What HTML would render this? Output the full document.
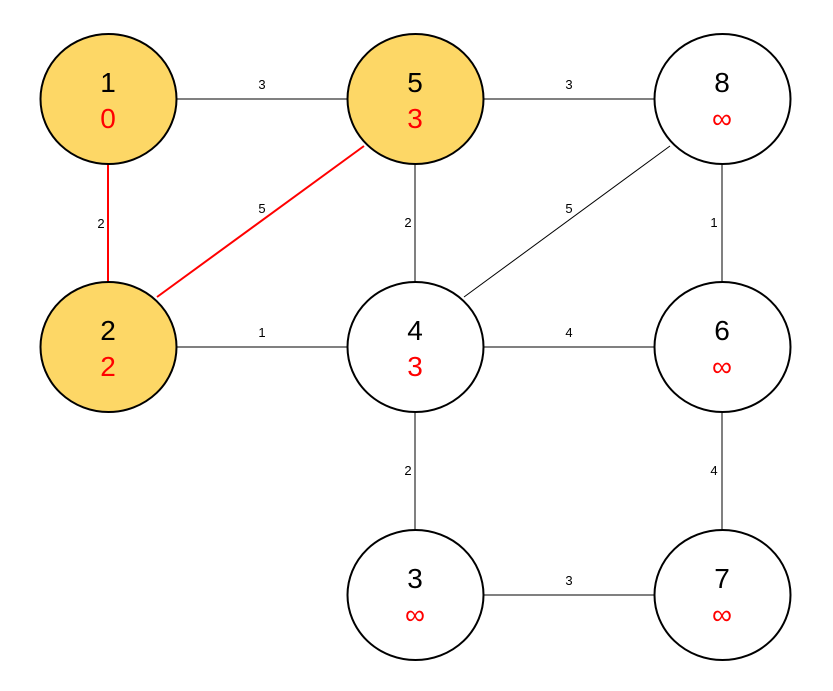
<!DOCTYPE html>
<html><head><meta charset="utf-8"><style>
html,body{margin:0;padding:0;background:#fff;}
svg{display:block;font-family:"Liberation Sans","DejaVu Sans",sans-serif;}
.n{font-size:28px;text-anchor:middle;fill:#000;}
.d{font-size:28px;text-anchor:middle;fill:#ff0000;}
.l{font-size:13px;text-anchor:middle;fill:#000;}
</style></head><body>
<svg width="833" height="691" viewBox="0 0 833 691" xmlns="http://www.w3.org/2000/svg">
<g stroke="#000" stroke-width="1">
<line x1="108" y1="99" x2="415" y2="99"/>
<line x1="415" y1="99" x2="722" y2="99"/>
<line x1="415" y1="99" x2="415" y2="347"/>
<line x1="722" y1="99" x2="722" y2="347"/>
<line x1="670" y1="146" x2="464" y2="297"/>
<line x1="108" y1="347" x2="415" y2="347"/>
<line x1="415" y1="347" x2="722" y2="347"/>
<line x1="415" y1="347" x2="415" y2="595"/>
<line x1="722" y1="347" x2="722" y2="595"/>
<line x1="415" y1="595" x2="722" y2="595"/>
</g>
<g stroke="#ff0000" stroke-width="2">
<line x1="108" y1="99" x2="108" y2="347"/>
<line x1="364" y1="146" x2="157" y2="297"/>
</g>
<g stroke="#000" stroke-width="2">
<ellipse cx="108.5" cy="99" rx="68" ry="65" fill="#fdd766"/>
<ellipse cx="415.5" cy="99" rx="68" ry="65" fill="#fdd766"/>
<ellipse cx="722.5" cy="99" rx="68" ry="65" fill="#fff"/>
<ellipse cx="108.5" cy="347" rx="68" ry="65" fill="#fdd766"/>
<ellipse cx="415.5" cy="347" rx="68" ry="65" fill="#fff"/>
<ellipse cx="722.5" cy="347" rx="68" ry="65" fill="#fff"/>
<ellipse cx="415.5" cy="595" rx="68" ry="65" fill="#fff"/>
<ellipse cx="722.5" cy="595" rx="68" ry="65" fill="#fff"/>
</g>
<text class="n" x="108" y="92">1</text><text class="d" x="108" y="128">0</text>
<text class="n" x="415" y="92">5</text><text class="d" x="415" y="128">3</text>
<text class="n" x="722" y="92">8</text><text class="d" x="722" y="128">∞</text>
<text class="n" x="108" y="340">2</text><text class="d" x="108" y="376">2</text>
<text class="n" x="415" y="340">4</text><text class="d" x="415" y="376">3</text>
<text class="n" x="722" y="340">6</text><text class="d" x="722" y="376">∞</text>
<text class="n" x="415" y="588">3</text><text class="d" x="415" y="624">∞</text>
<text class="n" x="722" y="588">7</text><text class="d" x="722" y="624">∞</text>
<text class="l" x="262" y="89">3</text>
<text class="l" x="569" y="89">3</text>
<text class="l" x="101" y="228">2</text>
<text class="l" x="262" y="213">5</text>
<text class="l" x="408" y="227">2</text>
<text class="l" x="569" y="213">5</text>
<text class="l" x="714" y="227">1</text>
<text class="l" x="262" y="337">1</text>
<text class="l" x="569" y="337">4</text>
<text class="l" x="408" y="475">2</text>
<text class="l" x="714" y="475">4</text>
<text class="l" x="569" y="585">3</text>
</svg>
</body></html>
